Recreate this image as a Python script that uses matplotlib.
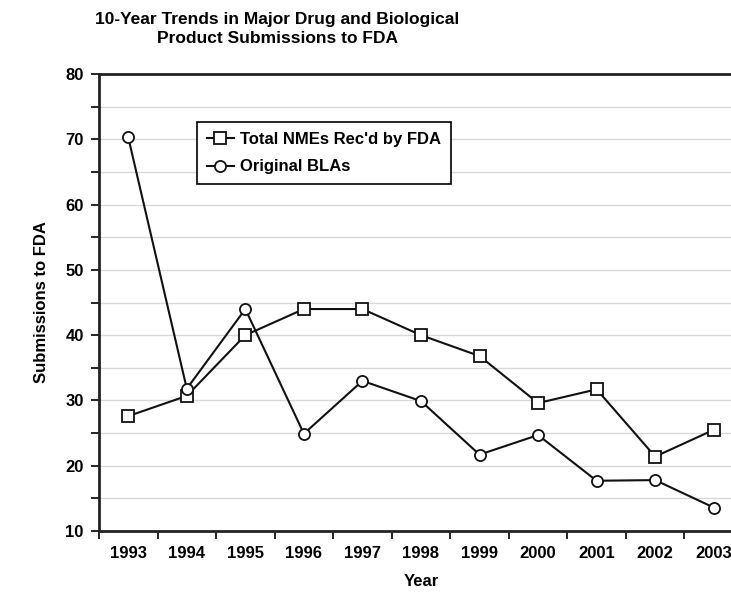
import matplotlib.pyplot as plt
import numpy as np

plt.rcParams['font.family'] = ['Liberation Sans', 'DejaVu Sans']
plt.rcParams['font.weight'] = 'bold'

years = ['1993', '1994', '1995', '1996', '1997', '1998', '1999', '2000', '2001', '2002', '2003']
nmes = [27.6, 30.7, 40.0, 44.0, 44.0, 40.0, 36.8, 29.6, 31.7, 21.4, 25.5]
blas = [70.3, 31.8, 44.0, 24.9, 33.0, 29.9, 21.7, 24.7, 17.7, 17.8, 13.6]

fig = plt.figure(figsize=(7.31, 5.92), dpi=100)
ax = fig.add_axes([0.1354, 0.103, 0.881, 0.772])

x = np.arange(len(years))
ax.plot(x, nmes, color='#111111', lw=1.5, marker='s', ms=8, mfc='white', mec='#111111',
        mew=1.3, label="Total NMEs Rec'd by FDA", zorder=3)
ax.plot(x, blas, color='#111111', lw=1.5, marker='o', ms=8, mfc='white', mec='#111111',
        mew=1.3, label='Original BLAs', zorder=3)

ax.set_xlim(-0.5, len(years) - 0.5)
ax.set_ylim(10, 80)

ax.set_yticks(np.arange(10, 81, 10))
ax.set_yticks(np.arange(15, 80, 10), minor=True)
for yv in np.arange(15, 80, 5):
    ax.axhline(yv, color='#d8d8d8', lw=1, zorder=1)

ax.set_xticks(x)
ax.set_xticklabels(years)
ax.set_xticks(np.arange(-0.5, len(years), 1), minor=True)
ax.tick_params(axis='x', which='major', length=0, pad=11, labelsize=12)
ax.tick_params(axis='x', which='minor', length=6, width=1.2, direction='out')
ax.tick_params(axis='y', which='both', length=6, width=1.2, direction='out', labelsize=12, pad=5)

for side in ['left', 'bottom', 'top', 'right']:
    ax.spines[side].set_linewidth(2)
    ax.spines[side].set_color('#222222')

ax.set_xlabel('Year', fontsize=12, fontweight='bold', labelpad=9)
ax.set_ylabel('Submissions to FDA', fontsize=12, fontweight='bold', labelpad=12)
fig.suptitle('10-Year Trends in Major Drug and Biological\nProduct Submissions to FDA',
             fontsize=12.5, fontweight='bold', x=0.379, y=0.98, linespacing=1.35)

leg = ax.legend(loc='upper left', bbox_to_anchor=(0.152, 0.895), borderaxespad=0,
                fancybox=False, edgecolor='black', framealpha=1, handlelength=1.6,
                handletextpad=0.4, borderpad=0.6, labelspacing=0.75,
                prop={'weight': 'bold', 'size': 12})
leg.get_frame().set_linewidth(1.2)

plt.savefig('out.png', dpi=100)
plt.close()
